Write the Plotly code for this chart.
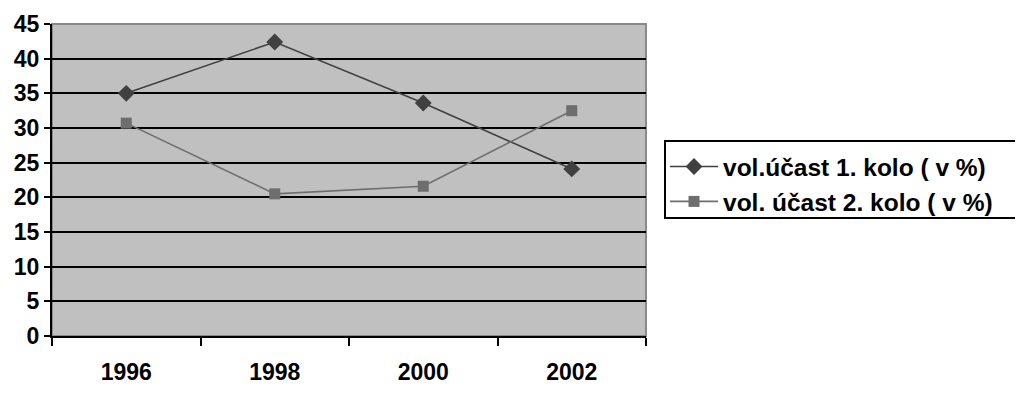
import plotly.graph_objects as go

years = ["1996", "1998", "2000", "2002"]
kolo1 = [35.0, 42.4, 33.6, 24.1]
kolo2 = [30.7, 20.5, 21.6, 32.5]
name1 = "vol.účast 1. kolo ( v %)"
name2 = "vol. účast 2. kolo ( v %)"
y_ticks = [0, 5, 10, 15, 20, 25, 30, 35, 40, 45]

# page body has an 8px default margin, so the figure is offset by (8, 8)
fig = go.Figure()
fig.add_trace(go.Scatter(x=years, y=kolo1, name=name1, mode="lines+markers",
                         line=dict(color="#404040", width=1.6),
                         marker=dict(symbol="diamond", size=13, color="#404040")))
fig.add_trace(go.Scatter(x=years, y=kolo2, name=name2, mode="lines+markers",
                         line=dict(color="#6e6e6e", width=1.6),
                         marker=dict(symbol="square", size=11, color="#6e6e6e")))

bold = dict(family="Liberation Sans, Arial", weight="bold", color="black")

fig.update_layout(
    width=1007, height=387,
    margin=dict(l=44, r=369, t=16, b=59, autoexpand=False),
    paper_bgcolor="white", plot_bgcolor="#c0c0c0",
    font=bold,
    showlegend=True,
    legend=dict(x=1.032, y=0.615, xanchor="left", yanchor="top",
                borderwidth=0, bgcolor="rgba(0,0,0,0)", itemwidth=48,
                font=dict(size=24.5, **bold)),
    xaxis=dict(type="category", tickson="boundaries", ticks="outside", ticklen=8,
               tickwidth=2, tickcolor="black", showline=True, linecolor="black",
               linewidth=2, showgrid=False, mirror=False, automargin=False,
               tickfont=dict(size=23, **bold), ticklabelstandoff=14,
               range=[-0.5, 3.5]),
    yaxis=dict(range=[0, 45], tickvals=y_ticks,
               ticks="outside", ticklen=6, automargin=False,
               tickwidth=2, tickcolor="black", showline=True, linecolor="black",
               linewidth=2, showgrid=True, gridcolor="black", gridwidth=2,
               tickfont=dict(size=23, **bold), zeroline=False),
)
# plot-area frame (light grey top/right)
fig.add_shape(type="rect", xref="paper", yref="paper", x0=0, x1=1, y0=0, y1=1,
              line=dict(color="#8a8a8a", width=2), layer="below")
# legend frame
fig.add_shape(type="rect", xref="paper", yref="paper", x0=1.032, x1=1.626,
              y0=0.378, y1=0.625, line=dict(color="black", width=2),
              fillcolor="white", layer="below")

fig.write_html("out.html")
